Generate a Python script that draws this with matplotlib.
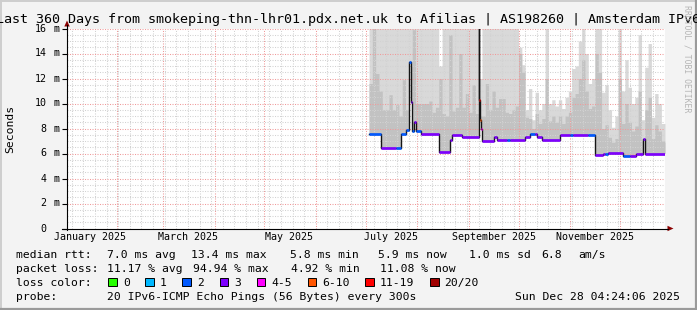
import numpy as np
import pandas as pd
import matplotlib
matplotlib.use("Agg")
import matplotlib.pyplot as plt
import matplotlib.dates as mdates
from matplotlib.lines import Line2D
from matplotlib.patches import Polygon, Rectangle
from matplotlib.ticker import MultipleLocator

W, H = 697, 310
MONO = "DejaVu Sans Mono"

# time span of the graph
t_start = pd.Timestamp("2025-01-02 04:24:06")
t_end = pd.Timestamp("2025-12-28 04:24:06")

# median rtt as steps: start time, value in ms, loss bucket (index into loss_colors)
med_start = [
    "2025-07-03 00:00", "2025-07-10 00:00", "2025-07-19 00:00", "2025-07-22 00:00", "2025-07-25 00:00",
    "2025-07-27 00:00", "2025-07-28 00:00", "2025-07-29 00:00", "2025-07-30 00:00", "2025-07-31 00:00",
    "2025-08-03 00:00", "2025-08-14 00:00", "2025-08-21 00:00", "2025-08-22 00:00", "2025-08-28 00:00",
    "2025-09-07 00:00", "2025-09-07 12:00", "2025-09-08 00:00", "2025-09-08 12:00",
    "2025-09-09 00:00", "2025-09-16 00:00", "2025-09-18 00:00", "2025-09-24 00:00", "2025-09-26 00:00",
    "2025-10-05 00:00", "2025-10-08 00:00", "2025-10-11 00:00", "2025-10-12 00:00", "2025-10-15 00:00",
    "2025-10-26 00:00", "2025-11-01 00:00", "2025-11-03 00:00", "2025-11-12 00:00", "2025-11-16 00:00",
    "2025-11-21 00:00", "2025-11-22 00:00", "2025-11-24 00:00", "2025-12-03 00:00", "2025-12-07 00:00",
    "2025-12-11 00:00", "2025-12-15 00:00", "2025-12-16 00:00",
]
med_ms = [
    7.6, 6.45, 6.45, 7.6, 7.9,
    13.3, 10.1, 7.8, 8.5, 7.8,
    7.6, 6.15, 7.1, 7.45, 7.35,
    17.0, 10.3, 8.7, 8.0,
    7.0, 7.35, 7.05, 7.05, 7.05,
    7.3, 7.6, 7.6, 7.35, 7.1,
    7.45, 7.45, 7.45, 7.45, 5.85,
    6.0, 6.0, 6.05, 5.82, 5.82,
    6.0, 7.2, 6.0,
]
med_loss = [
    2, 3, 2, 2, 2,
    2, 3, 2, 3, 2,
    3, 3, 3, 3, 3,
    5, 6, 5, 4,
    3, 3, 3, 2, 3,
    3, 2, 3, 3, 3,
    3, 2, 3, 2, 3,
    3, 2, 3, 2, 3,
    3, 3, 3,
]

# smoke, one value per 2-day bin starting at smoke_first (ms, 17 = above the top)
smoke_first = pd.Timestamp("2025-07-03")
smoke_hi = [
    17, 17, 17, 17, 17, 17, 17, 17, 17, 17,
    17, 17, 17, 17, 17, 17, 17, 17, 17, 17,
    17, 13.0, 17, 17, 17, 17, 17, 17, 17, 17,
    17, 17, 17, 12.0, 17, 17, 17, 17, 17, 17,
    17, 17, 17, 17, 17, 14.5, 13.1, 9.5, 11.2, 8.7,
    10.9, 9.5, 10.0, 17, 10.0, 10.3, 9.8, 10.3, 9.6, 10.5,
    11.0, 12.8, 13.0, 15.0, 17, 14.0, 11.6, 12.0, 17, 17,
    10.9, 11.5, 9.5, 8.1, 9.0, 17, 11.0, 13.5, 11.3, 10.0,
    10.5, 15.5, 8.7, 12.9, 14.8, 8.9, 10.8, 10.0, 8.4, 8.4,
]
smoke_mid = [
    11.6, 16.0, 12.4, 11.0, 9.5, 9.5, 10.7, 9.5, 9.9, 9.0,
    11.9, 9.5, 13.0, 15.9, 10.0, 10.0, 10.0, 10.0, 10.2, 9.3,
    9.7, 12.0, 9.2, 9.0, 15.5, 9.4, 9.7, 14.0, 9.7, 10.8,
    9.3, 11.5, 9.2, 9.0, 9.0, 11.6, 9.5, 11.0, 9.7, 10.4,
    10.4, 9.3, 9.2, 9.5, 9.8, 14.0, 12.5, 8.9, 8.8, 8.0,
    9.2, 8.4, 8.8, 12.0, 8.6, 9.0, 8.5, 9.0, 8.4, 9.0,
    9.3, 10.5, 10.8, 12.0, 13.5, 11.0, 9.6, 9.8, 14.0, 12.5,
    8.0, 8.3, 7.3, 6.9, 7.2, 12.0, 8.4, 10.0, 8.5, 7.8,
    8.2, 11.0, 7.0, 9.5, 10.5, 7.2, 8.3, 7.8, 7.0, 6.9,
]

loss_labels = ["0", "1", "2", "3", "4-5", "6-10", "11-19", "20/20"]
loss_colors = ["#26ff00", "#00b8ff", "#0059ff", "#7e00ff",
               "#ff00ff", "#ff5500", "#ff0000", "#a10000"]
loss_box_x = [108, 145, 182, 219.5, 256.5, 307.5, 365, 430]
loss_text_x = [123.6, 160, 197, 234, 271, 322, 380, 444]

month_labels = ["January 2025", "March 2025", "May 2025",
                "July 2025", "September 2025", "November 2025"]
month_label_at = ["2025-01-16", "2025-03-16", "2025-05-16",
                  "2025-07-16", "2025-09-16", "2025-11-16"]

title = ("Last 360 Days from smokeping-thn-lhr01.pdx.net.uk to Afilias"
         " | AS198260 | Amsterdam IPv6")

rtt_line = [(16.4, "median rtt:"), (107, "7.0 ms avg"), (191, "13.4 ms max"),
            (290, "5.8 ms min"), (378, "5.9 ms now"), (469, "1.0 ms sd"),
            (541, "6.8"), (578, "am/s")]
loss_line = [(16.4, "packet loss:"), (107, "11.17 % avg"), (193, "94.94 % max"),
             (291, "4.92 % min"), (380, "11.08 % now")]
probe_line = [(16.4, "probe:"),
              (107, "20 IPv6-ICMP Echo Pings (56 Bytes) every 300s"),
              (515, "Sun Dec 28 04:24:06 2025")]


def fx(px):
    return px / W


def fy(py):
    return 1 - py / H


plt.rcParams["font.family"] = MONO

fig = plt.figure(figsize=(W / 100, H / 100), dpi=100, facecolor="#f3f3f3")
ax = fig.add_axes([fx(67), fy(228.5), 598 / W, 200 / H])
ax.set_facecolor("white")
ax.set_xlim(mdates.date2num(t_start), mdates.date2num(t_end))
ax.set_ylim(0, 16)
for s in ax.spines.values():
    s.set_visible(False)

# smoke
x_fine = pd.date_range(smoke_first, t_end, freq="1h")
bin_idx = ((x_fine - smoke_first) // pd.Timedelta(days=2)).to_numpy().astype(int)
bin_idx = np.minimum(bin_idx, len(smoke_hi) - 1)
med_t = pd.to_datetime(med_start, format="%Y-%m-%d %H:%M")
med_idx = np.searchsorted(med_t.values, x_fine.values, side="right") - 1
med_fine = np.array(med_ms)[med_idx]
hi_fine = np.maximum(np.array(smoke_hi)[bin_idx], med_fine)
mid_fine = np.maximum(np.minimum(np.array(smoke_mid)[bin_idx], hi_fine), med_fine)
xf = mdates.date2num(x_fine.values)
ax.fill_between(xf, med_fine, hi_fine, step="post", color="#d9d9d9", lw=0, zorder=1)
ax.fill_between(xf, med_fine, mid_fine, step="post", color="#c2c2c2", lw=0, zorder=1.5)

# grid
ax.xaxis.set_major_locator(mdates.MonthLocator())
ax.xaxis.set_minor_locator(mdates.WeekdayLocator(byweekday=mdates.SU))
ax.yaxis.set_major_locator(MultipleLocator(2))
ax.yaxis.set_minor_locator(MultipleLocator(0.5))
ax.set_axisbelow(False)
ax.grid(which="minor", color="#d2d2d2", lw=0.75, ls=(0, (1, 1.4)))
ax.grid(which="major", color="#f09a9a", lw=0.75, ls=(0, (1, 1.4)))
ax.tick_params(axis="x", which="both", length=0, labelbottom=False)
ax.tick_params(axis="y", which="minor", length=0)
ax.tick_params(axis="y", which="major", length=3.5, width=0.8, color="black",
               direction="out", labelleft=False)

# median line: black steps, coloured by loss
ends = list(med_t[1:]) + [t_end]
xs, ys = [], []
for s, e, v in zip(med_t, ends, med_ms):
    xs += [s, e]
    ys += [v, v]
ax.plot(mdates.date2num(pd.DatetimeIndex(xs).values), ys, color="#151515", lw=1.0, zorder=3)
ax.hlines(med_ms, mdates.date2num(med_t.values), mdates.date2num(pd.DatetimeIndex(ends).values),
          colors=[loss_colors[i] for i in med_loss], lw=1.9, zorder=4)

# y labels
ytr = ax.get_yaxis_transform()
for v in range(0, 17, 2):
    ax.text((46.5 - 67) / 598, v, str(v), ha="right", va="center",
            fontsize=7.2, transform=ytr, clip_on=False)
    if v > 0:
        ax.text((53.3 - 67) / 598, v, "m", ha="left", va="center",
                fontsize=7.2, transform=ytr, clip_on=False)

# month labels
xtr = ax.get_xaxis_transform()
for lab, d in zip(month_labels, month_label_at):
    ax.text(mdates.date2num(pd.Timestamp(d)), -0.041, lab, ha="center", va="center",
            fontsize=7.2, transform=xtr, clip_on=False)

# axes with arrows
fig.add_artist(Line2D([fx(67), fx(67)], [fy(230), fy(25)], color="black", lw=0.8))
fig.add_artist(Polygon([(fx(64.3), fy(26.5)), (fx(69.7), fy(26.5)), (fx(67), fy(20.5))],
                       closed=True, color="#8b0000", lw=0))
fig.add_artist(Line2D([fx(62), fx(668)], [fy(228.5), fy(228.5)], color="black", lw=0.8))
fig.add_artist(Polygon([(fx(667.5), fy(225.8)), (fx(667.5), fy(231.2)), (fx(673.5), fy(228.5))],
                       closed=True, color="#8b0000", lw=0))

# texts
fig.text(fx(348.5), fy(23.5), title, ha="center", va="baseline", fontsize=9.6)
fig.text(fx(10), fy(128.5), "Seconds", rotation=90, ha="center", va="center", fontsize=8.2)
fig.text(fx(687.5), fy(5), "RRDTOOL / TOBI OETIKER", rotation=-90, ha="center", va="top",
         fontsize=5.9, color="#b5b5b5")

LEG = 8.2
for x, s in rtt_line:
    fig.text(fx(x), fy(258), s, ha="left", va="baseline", fontsize=LEG)
for x, s in loss_line:
    fig.text(fx(x), fy(272), s, ha="left", va="baseline", fontsize=LEG)
fig.text(fx(16.4), fy(286), "loss color:", ha="left", va="baseline", fontsize=LEG)
for bx, tx, lab, c in zip(loss_box_x, loss_text_x, loss_labels, loss_colors):
    fig.add_artist(Rectangle((fx(bx), fy(286)), 8.5 / W, 8.5 / H, facecolor=c,
                             edgecolor="black", lw=0.7))
    fig.text(fx(tx), fy(286), lab, ha="left", va="baseline", fontsize=LEG)
for x, s in probe_line:
    fig.text(fx(x), fy(300), s, ha="left", va="baseline", fontsize=LEG)

# frame
fig.add_artist(Line2D([0, 1], [fy(0.7), fy(0.7)], color="#cdcdcd", lw=1.4))
fig.add_artist(Line2D([fx(0.7), fx(0.7)], [0, 1], color="#cdcdcd", lw=1.4))
fig.add_artist(Line2D([0, 1], [fy(308.5), fy(308.5)], color="#9a9a9a", lw=1.6))
fig.add_artist(Line2D([fx(695.5), fx(695.5)], [0, 1], color="#9a9a9a", lw=1.6))

fig.savefig("out.png", dpi=100, facecolor=fig.get_facecolor())
